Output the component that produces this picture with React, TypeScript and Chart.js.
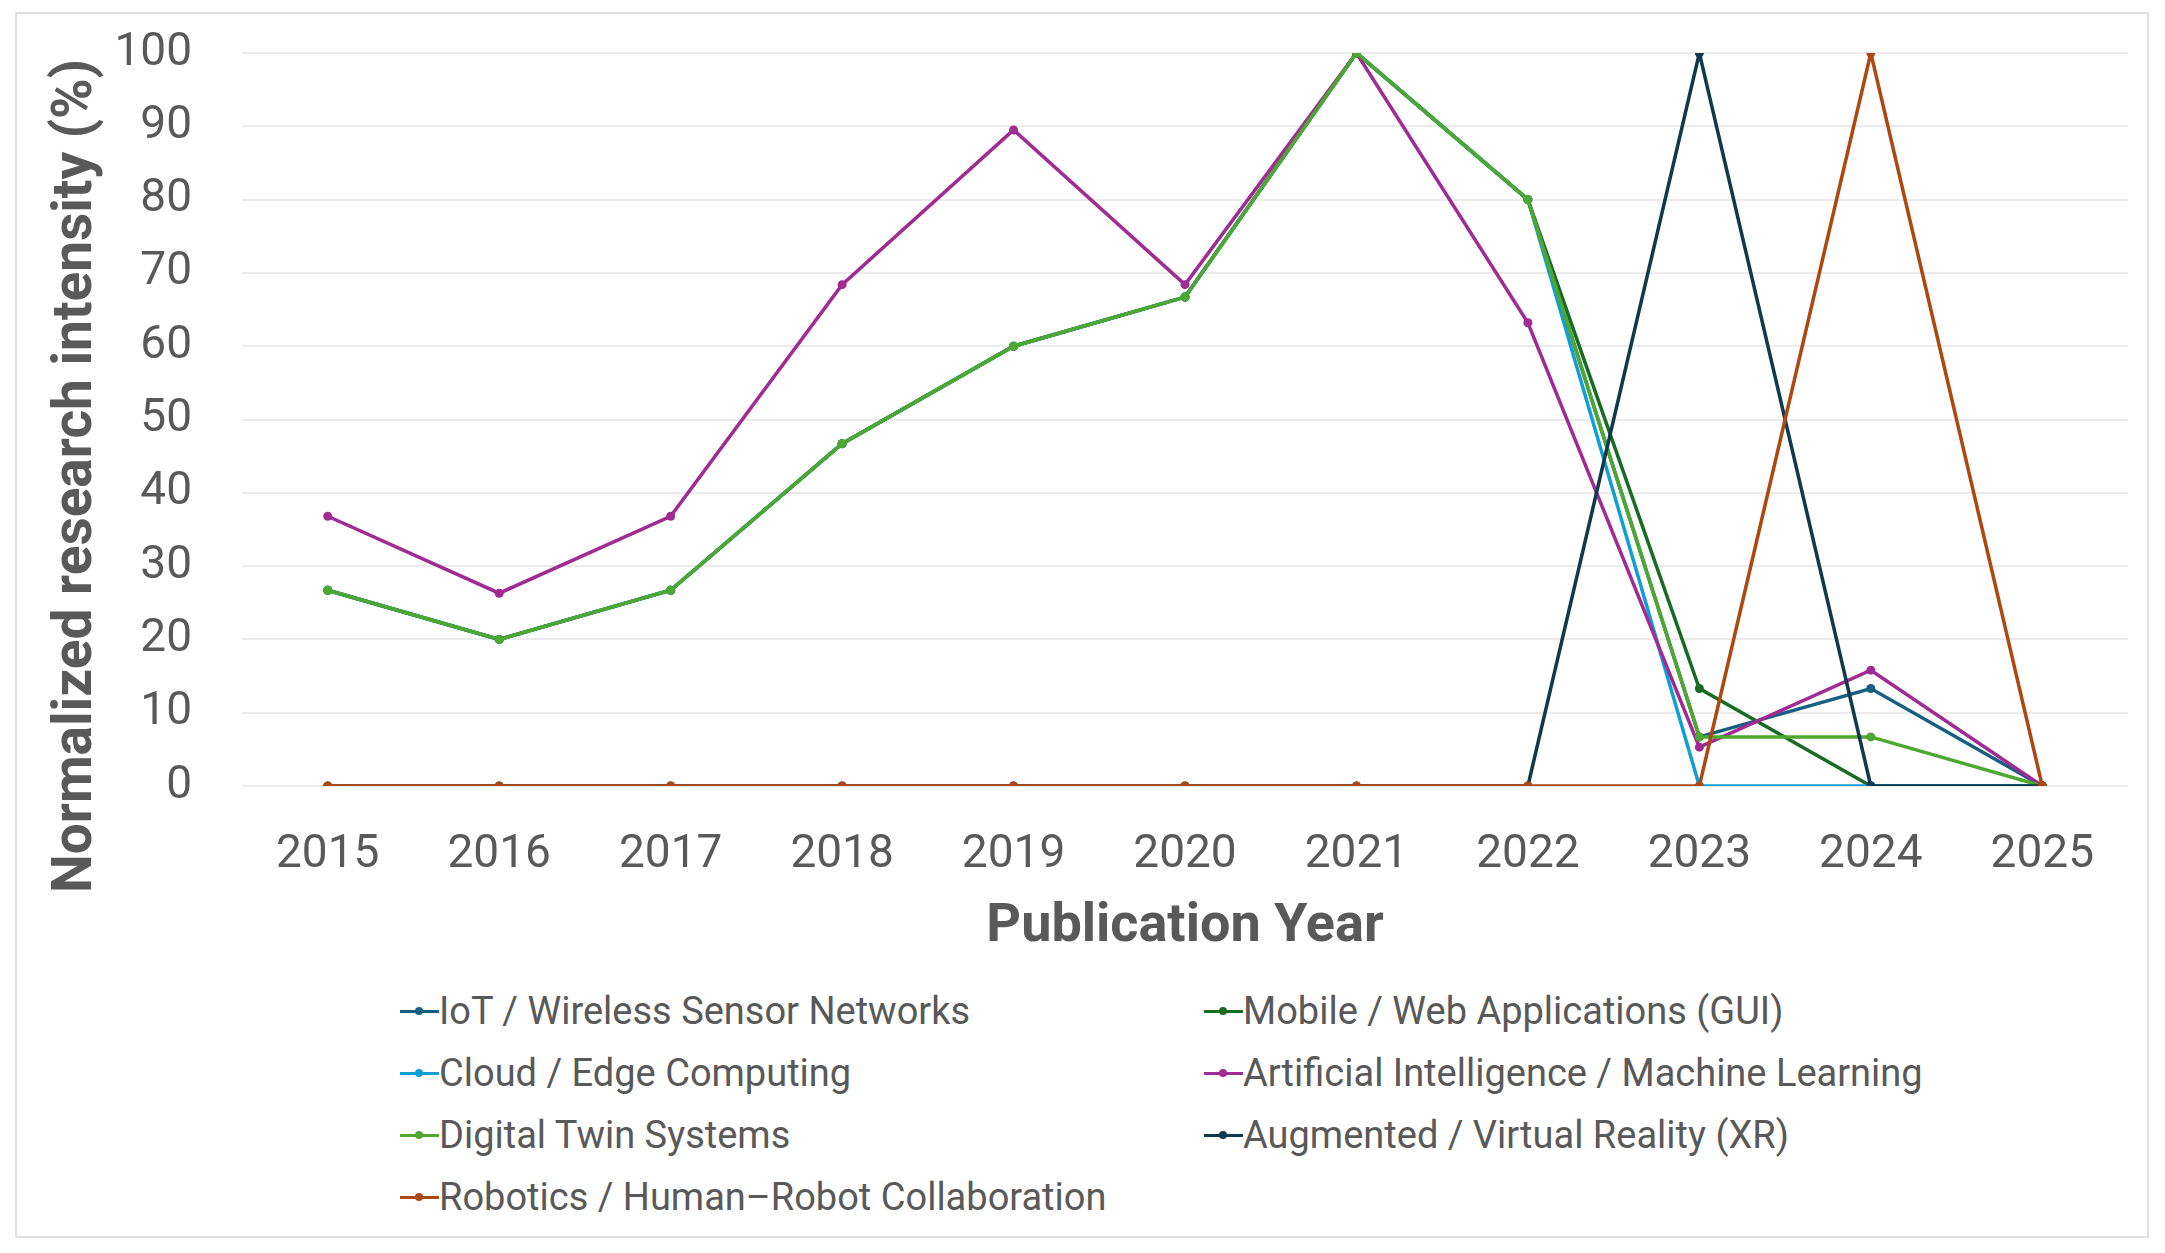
import { useEffect, useRef } from 'react'
import Chart from 'chart.js/auto'

const years = ['2015', '2016', '2017', '2018', '2019', '2020', '2021', '2022', '2023', '2024', '2025']

const iot = [26.7, 20, 26.7, 46.7, 60, 66.7, 100, 80, 6.7, 13.3, 0]
const mobile = [26.7, 20, 26.7, 46.7, 60, 66.7, 100, 80, 13.3, 0, 0]
const cloud = [26.7, 20, 26.7, 46.7, 60, 66.7, 100, 80, 0, 0, 0]
const ai = [36.8, 26.3, 36.8, 68.4, 89.5, 68.4, 100, 63.2, 5.3, 15.8, 0]
const digitalTwin = [26.7, 20, 26.7, 46.7, 60, 66.7, 100, 80, 6.7, 6.7, 0]
const xr = [0, 0, 0, 0, 0, 0, 0, 0, 100, 0, 0]
const robotics = [0, 0, 0, 0, 0, 0, 0, 0, 0, 100, 0]

const series = [
    { label: 'IoT / Wireless Sensor Networks', data: iot, color: '#156082' },
    { label: 'Mobile / Web Applications (GUI)', data: mobile, color: '#196B24' },
    { label: 'Cloud / Edge Computing', data: cloud, color: '#0F9ED5' },
    { label: 'Artificial Intelligence / Machine Learning', data: ai, color: '#A02B93' },
    { label: 'Digital Twin Systems', data: digitalTwin, color: '#4EA72E' },
    { label: 'Augmented / Virtual Reality (XR)', data: xr, color: '#0D3A4E' },
    { label: 'Robotics / Human\u2013Robot Collaboration', data: robotics, color: '#AC4810' },
]

const yTitle = 'Normalized research intensity (%)'

// legend is laid out in two columns like the original (row-wise order)
const legendCol1 = [0, 2, 4, 6]
const legendCol2 = [1, 3, 5]

const FONT = 'Roboto, "Noto Sans", sans-serif'
const GREY = '#595959'

// y title sits a bit lower than the plot centre in the original, so draw it by hand
const yTitlePlugin = {
    id: 'yTitle',
    afterDraw(chart: any) {
        const ctx = chart.ctx
        ctx.save()
        ctx.translate(60, 462)
        ctx.rotate(-Math.PI / 2)
        ctx.font = `bold 55px ${FONT}`
        ctx.fillStyle = GREY
        ctx.textAlign = 'center'
        ctx.textBaseline = 'middle'
        ctx.fillText(yTitle, 0, 0)
        ctx.restore()
    },
}

const LegendItem = ({ idx }: { idx: number }) => {
    const s = series[idx]
    return (
        <div style={{ display: 'flex', alignItems: 'center', height: 62 }}>
            <span style={{ position: 'relative', width: 39, height: 10, display: 'inline-block' }}>
                <span style={{ position: 'absolute', left: 0, right: 0, top: 3.5, height: 3, background: s.color }} />
                <span style={{ position: 'absolute', left: 15, top: 1, width: 8, height: 8, borderRadius: 4, background: s.color }} />
            </span>
            <span style={{ fontFamily: FONT, fontSize: 38, color: GREY, whiteSpace: 'nowrap' }}>{s.label}</span>
        </div>
    )
}

const App = () => {
    const chartRef = useRef<HTMLCanvasElement>(null)

    useEffect(() => {
        if (!chartRef.current) return
        const chart = new Chart(chartRef.current, {
            type: 'line',
            data: {
                labels: years,
                datasets: series.map((s, i) => ({
                    label: s.label,
                    data: s.data,
                    borderColor: s.color,
                    backgroundColor: s.color,
                    borderWidth: 3.5,
                    pointRadius: 4.5,
                    pointBorderWidth: 0,
                    tension: 0,
                    order: series.length - i,
                })),
            },
            options: {
                animation: false,
                responsive: false,
                layout: { padding: { top: 39, right: 19, left: 0, bottom: 0 } },
                plugins: {
                    legend: { display: false },
                    tooltip: { enabled: false },
                },
                scales: {
                    x: {
                        offset: true,
                        grid: { display: false },
                        border: { display: false },
                        ticks: {
                            color: GREY,
                            padding: 34,
                            font: { family: FONT, size: 46 },
                            maxRotation: 0,
                        },
                        title: {
                            display: true,
                            text: 'Publication Year',
                            color: GREY,
                            font: { family: FONT, size: 54, weight: 'bold' },
                            padding: { top: 0, bottom: 4 },
                        },
                        afterFit: (scale: any) => { scale.height = 178 },
                    },
                    y: {
                        min: 0,
                        max: 100,
                        grid: { color: '#ebebeb', lineWidth: 2, drawTicks: false },
                        border: { display: false },
                        ticks: {
                            stepSize: 10,
                            color: GREY,
                            padding: 50,
                            font: { family: FONT, size: 46 },
                        },
                        afterFit: (scale: any) => {
                            scale.width = 225
                            scale.paddingTop = 0
                            scale.paddingBottom = 0
                        },
                    },
                },
            },
            plugins: [yTitlePlugin],
        })
        return () => chart.destroy()
    }, [])

    return (
        <div style={{ position: 'absolute', left: 15, top: 12, width: 2130, height: 1222, border: '2px solid #e0e0e0', background: '#fff' }}>
            <canvas ref={chartRef} width={2130} height={950} style={{ position: 'absolute', left: 0, top: 0 }} />
            <div style={{ position: 'absolute', left: 383, top: 966 }}>
                {legendCol1.map(i => <LegendItem key={i} idx={i} />)}
            </div>
            <div style={{ position: 'absolute', left: 1187, top: 966 }}>
                {legendCol2.map(i => <LegendItem key={i} idx={i} />)}
            </div>
        </div>
    )
}

export default App
